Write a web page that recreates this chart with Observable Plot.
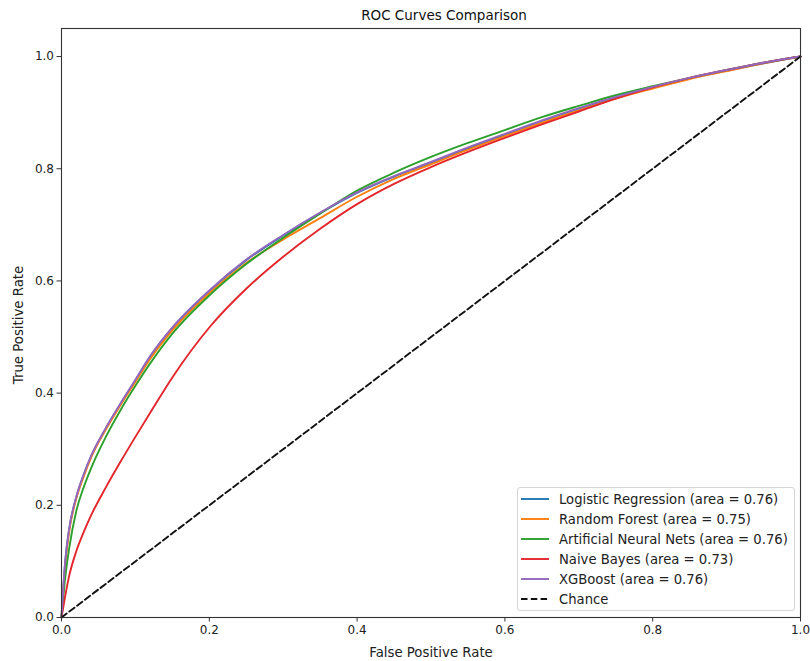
<!DOCTYPE html>
<html>
<head>
<meta charset="utf-8">
<script src="https://cdn.jsdelivr.net/npm/d3@7"></script>
<script src="https://cdn.jsdelivr.net/npm/@observablehq/plot@0.6"></script>
<style>
  html, body { margin: 0; padding: 0; background: #fff; }
  #wrap { position: relative; width: 810px; height: 661px; font-family: "DejaVu Sans", sans-serif; }
  #legend { position: absolute; left: 517px; top: 487px; width: 278px; height: 124px;
            border: 1px solid #d5d5d5; border-radius: 3px; background: rgba(255,255,255,0.85);
            box-sizing: border-box; padding-top: 1px; }
  .item { display: flex; align-items: center; height: 20px; font-size: 13.2px; color: #222; }
  .item svg { margin-left: 3px; margin-right: 10px; }
</style>
</head>
<body>
<div id="wrap"></div>
<script>
const fpr = [0, 0.005, 0.01, 0.02, 0.03, 0.04, 0.06, 0.08, 0.1, 0.12, 0.15, 0.2, 0.25, 0.3, 0.35, 0.4, 0.45, 0.5, 0.55, 0.6, 0.65, 0.7, 0.75, 0.8, 0.85, 0.9, 0.95, 1];

const tprLogistic = [0, 0.099, 0.154, 0.214, 0.254, 0.287, 0.337, 0.381, 0.423, 0.465, 0.516, 0.582, 0.637, 0.681, 0.721, 0.757, 0.786, 0.811, 0.836, 0.861, 0.885, 0.907, 0.927, 0.945, 0.961, 0.975, 0.988, 1];
const tprForest   = [0, 0.092, 0.15, 0.212, 0.251, 0.285, 0.335, 0.379, 0.42, 0.461, 0.512, 0.578, 0.632, 0.674, 0.712, 0.75, 0.782, 0.808, 0.834, 0.858, 0.882, 0.904, 0.925, 0.943, 0.96, 0.974, 0.988, 1];
const tprNeural   = [0, 0.07, 0.12, 0.19, 0.232, 0.266, 0.322, 0.37, 0.413, 0.453, 0.506, 0.574, 0.63, 0.677, 0.72, 0.761, 0.793, 0.821, 0.846, 0.869, 0.892, 0.912, 0.931, 0.947, 0.962, 0.976, 0.989, 1];
const tprBayes    = [0, 0.038, 0.072, 0.118, 0.152, 0.182, 0.232, 0.278, 0.322, 0.365, 0.428, 0.517, 0.586, 0.643, 0.693, 0.737, 0.773, 0.803, 0.83, 0.855, 0.879, 0.902, 0.925, 0.945, 0.962, 0.976, 0.989, 1];
const tprXGBoost  = [0, 0.10, 0.155, 0.215, 0.255, 0.288, 0.338, 0.382, 0.424, 0.466, 0.517, 0.583, 0.638, 0.682, 0.722, 0.758, 0.787, 0.812, 0.838, 0.862, 0.886, 0.908, 0.928, 0.946, 0.962, 0.976, 0.989, 1];

const chanceX = [0, 1];
const chanceY = [0, 1];

const modelNames = ["Logistic Regression", "Random Forest", "Artificial Neural Nets", "Naive Bayes", "XGBoost"];
const modelAUC = ["0.76", "0.75", "0.76", "0.73", "0.76"];
const modelColors = ["#1f77b4", "#ff7f0e", "#2ca02c", "#e3262b", "#9467bd"];
const modelTPR = [tprLogistic, tprForest, tprNeural, tprBayes, tprXGBoost];

const xTicks = [0, 0.2, 0.4, 0.6, 0.8, 1.0];
const yTicks = [0, 0.2, 0.4, 0.6, 0.8, 1.0];

const title = "ROC Curves Comparison";
const xLabel = "False Positive Rate";
const yLabel = "True Positive Rate";

const curveMarks = modelNames.map((name, k) =>
  Plot.line(fpr.map((x, i) => ({fpr: x, tpr: modelTPR[k][i]})), {
    x: "fpr", y: "tpr", stroke: modelColors[k], strokeWidth: 1.9, curve: "monotone-x"
  })
);

const chance = chanceX.map((x, i) => ({fpr: x, tpr: chanceY[i]}));

const chart = Plot.plot({
  width: 810,
  height: 661,
  marginLeft: 61,
  marginRight: 10,
  marginTop: 28,
  marginBottom: 44,
  style: {fontFamily: "DejaVu Sans, sans-serif", fontSize: "12px", color: "#222", background: "#fff"},
  x: {domain: [0, 1]},
  y: {domain: [0, 1.05]},
  marks: [
    ...curveMarks,
    Plot.line(chance, {x: "fpr", y: "tpr", stroke: "#111", strokeWidth: 1.9, strokeDasharray: "6.5,3.3"}),
    Plot.frame({stroke: "#333", strokeWidth: 1.1}),
    Plot.axisX({ticks: xTicks, tickFormat: d => d.toFixed(1), tickSize: 4.5, tickPadding: 3, label: null, fontSize: 12, stroke: "#333"}),
    Plot.axisY({ticks: yTicks, tickFormat: d => d.toFixed(1), tickSize: 4.5, tickPadding: 3, label: null, fontSize: 12, stroke: "#333"}),
    Plot.text([title], {frameAnchor: "top", dy: -13, dx: 13, textAnchor: "middle", lineAnchor: "middle", fontSize: 13.5, fill: "#111"}),
    Plot.text([xLabel], {frameAnchor: "bottom", dy: 35, textAnchor: "middle", lineAnchor: "middle", fontSize: 13.3, fill: "#222"}),
    Plot.text([yLabel], {frameAnchor: "left", dx: -43, dy: 2, rotate: -90, textAnchor: "middle", lineAnchor: "middle", fontSize: 13.3, fill: "#222"})
  ]
});

const wrap = document.getElementById("wrap");
wrap.appendChild(chart);

const legend = document.createElement("div");
legend.id = "legend";
const legendEntries = modelNames.map((n, k) => ({label: `${n} (area = ${modelAUC[k]})`, color: modelColors[k], dash: null}));
legendEntries.push({label: "Chance", color: "#111", dash: "6.5,3.3"});
for (const e of legendEntries) {
  const row = document.createElement("div");
  row.className = "item";
  row.innerHTML = `<svg width="28" height="6"><line x1="0" y1="3" x2="28" y2="3" stroke="${e.color}" stroke-width="1.9" ${e.dash ? `stroke-dasharray="${e.dash}"` : ""}/></svg><span>${e.label}</span>`;
  legend.appendChild(row);
}
wrap.appendChild(legend);
</script>
</body>
</html>
